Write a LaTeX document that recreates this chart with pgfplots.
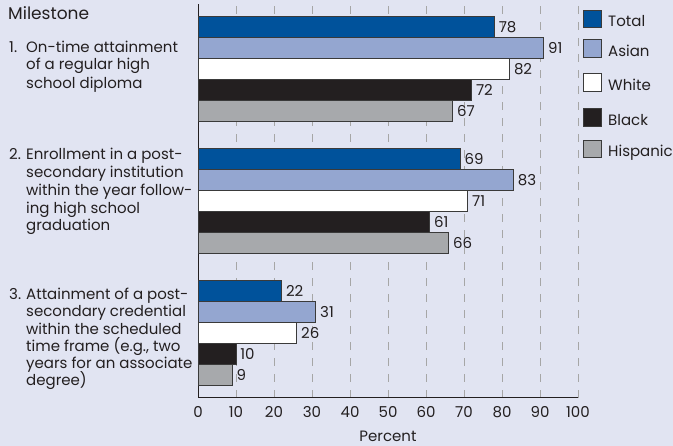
\documentclass[border=0pt]{standalone}
\usepackage{fontspec}
\setmainfont{Poppins}
\usepackage{pgfplots}
\pgfplotsset{compat=1.18}
\definecolor{bg}{HTML}{E1E4F2}
\definecolor{ctotal}{HTML}{00529B}
\definecolor{casian}{HTML}{94A6D0}
\definecolor{cblack}{HTML}{231F20}
\definecolor{chisp}{HTML}{A7A9AC}
\definecolor{txt}{HTML}{231F20}
\definecolor{edge}{HTML}{3A3A3A}
\newcommand{\fs}{\fontsize{15}{17.5}\selectfont}
\newcommand{\lab}[3]{\node[anchor=base west,inner sep=0pt,text=txt,font=\fs] at (#1pt,{446pt-#2pt}) {#3};}
\newcommand{\leg}[4]{\draw[fill=#3,draw=edge,line width=0.8pt] (583pt,{446pt-#1pt}) rectangle (601pt,{446pt-#2pt});
 \node[anchor=base west,inner sep=0pt,text=txt,font=\fs] at (608pt,{446pt-#2pt}) {#4};}
\begin{document}
\begin{tikzpicture}
\fill[bg] (0,0) rectangle (673pt,446pt);
\begin{axis}[at={(198pt,48pt)},anchor=south west,scale only axis,width=380pt,height=394pt,
 xmin=0,xmax=100,ymin=0.508,ymax=3.492,
 xbar, bar width=21pt, point meta=x,
 xtick={0,10,...,100}, ytick=\empty,
 axis x line*=bottom, axis y line*=left, axis line style={-,draw=txt,line width=1pt},
 xmajorgrids, grid style={dash pattern=on 8pt off 8pt, draw=gray!70, line width=0.8pt},
 major tick length=0pt,
 tick label style={font=\fs,text=txt},
 xticklabel style={yshift=-5pt},
 /pgf/number format/assume math mode=true,
 xlabel={Percent}, xlabel style={font=\fs,text=txt,yshift=-6pt},
 nodes near coords, nodes near coords style={font=\fs,text=txt,anchor=west,inner xsep=4pt},
 every axis plot/.append style={draw=edge,line width=0.8pt},
 clip=false,
]
\addplot[fill=ctotal,bar shift=42pt] coordinates {(78,3) (69,2) (22,1)};
\addplot[fill=casian,bar shift=21pt] coordinates {(91,3) (83,2) (31,1)};
\addplot[fill=white,bar shift=0pt] coordinates {(82,3) (71,2) (26,1)};
\addplot[fill=cblack,bar shift=-21pt] coordinates {(72,3) (61,2) (10,1)};
\addplot[fill=chisp,bar shift=-42pt] coordinates {(67,3) (66,2) (9,1)};
\end{axis}
\node[anchor=base west,inner sep=0pt,text=txt,font=\fontsize{17}{20}\selectfont] at (8pt,{446pt-19.5pt}) {Milestone};
\lab{9}{52.3}{1.}
\lab{26}{52.3}{On-time attainment}
\lab{26}{70}{of a regular high}
\lab{26}{88.3}{school diploma}
\lab{9}{160}{2.}
\lab{26}{160}{Enrollment in a post-}
\lab{26}{177.7}{secondary institution}
\lab{26}{195.7}{within the year follow-}
\lab{26}{213.3}{ing high school}
\lab{26}{231}{graduation}
\lab{9}{299.3}{3.}
\lab{26}{299.3}{Attainment of a post-}
\lab{26}{316.7}{secondary credential}
\lab{26}{334.3}{within the scheduled}
\lab{26}{351.7}{time frame (e.g., two}
\lab{26}{369}{years for an associate}
\lab{26}{386}{degree)}
\leg{10}{27}{ctotal}{Total}
\leg{39}{57}{casian}{Asian}
\leg{73}{91}{white}{White}
\leg{108}{126}{cblack}{Black}
\leg{140}{157}{chisp}{Hispanic}
\end{tikzpicture}
\end{document}
